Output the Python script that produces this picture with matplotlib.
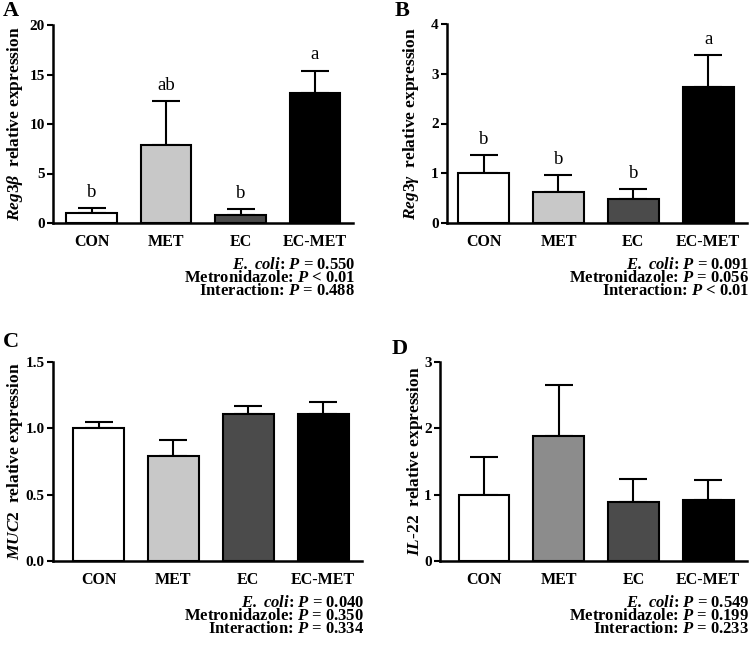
import matplotlib
matplotlib.use("Agg")
import matplotlib.pyplot as plt

plt.rcParams['font.family'] = ['Liberation Serif', 'DejaVu Serif']
plt.rcParams['font.weight'] = 'bold'
plt.rcParams['mathtext.fontset'] = 'custom'
plt.rcParams['mathtext.rm'] = 'Liberation Serif:bold'
plt.rcParams['mathtext.it'] = 'Liberation Serif:italic'
plt.rcParams['mathtext.bf'] = 'Liberation Serif:bold'
plt.rcParams['mathtext.bfit'] = 'Liberation Serif:bold:italic'

groups = ["CON", "MET", "EC", "EC-MET"]

# panel A - Reg3b
reg3b_mean = [1.0, 7.9, 0.85, 13.1]
reg3b_err = [0.5, 4.4, 0.6, 2.3]
reg3b_sig = ["b", "ab", "b", "a"]
# panel B - Reg3g
reg3g_mean = [1.0, 0.62, 0.49, 2.74]
reg3g_err = [0.36, 0.34, 0.19, 0.64]
reg3g_sig = ["b", "b", "b", "a"]
# panel C - MUC2
muc2_mean = [1.0, 0.79, 1.11, 1.11]
muc2_err = [0.05, 0.12, 0.06, 0.09]
# panel D - IL-22
il22_mean = [1.0, 1.88, 0.89, 0.92]
il22_err = [0.57, 0.78, 0.35, 0.30]

pvals_A = ["= 0.550", "< 0.01", "= 0.488"]
pvals_B = ["= 0.091", "= 0.056", "< 0.01"]
pvals_C = ["= 0.040", "= 0.350", "= 0.334"]
pvals_D = ["= 0.549", "= 0.199", "= 0.233"]

colors = ["white", "#c8c8c8", "#4b4b4b", "black"]
colors_D = ["white", "#8c8c8c", "#4b4b4b", "black"]

fig = plt.figure(figsize=(7.5, 6.48), dpi=100)
W, H = 750.0, 648.0


def make_axes(left, right, top, bottom):
    return fig.add_axes([left / W, 1 - bottom / H, (right - left) / W, (bottom - top) / H])


def p_text(ax, pv):
    names = [r"$\mathbfit{E.}$ $\mathbfit{coli}$", "Metronidazole", "Interaction"]
    for k, (name, v) in enumerate(zip(names, pv)):
        s = name + r": $\mathbfit{P}$ " + v
        ax.annotate(s, xy=(1.0, 0), xycoords="axes fraction",
                    xytext=(1.5, -30 - 9.6 * k), textcoords="offset points",
                    ha="right", va="center", fontsize=12, fontweight="bold")


def draw(ax, mean, err, cols, ylim, yticks, ytl, ylabel, labx, xlim, pv, sig=None):
    x = list(range(len(groups)))
    ax.bar(x, mean, width=0.68, color=cols, edgecolor="black", linewidth=1.5, zorder=2)
    ax.errorbar(x, mean, yerr=[[0] * len(err), err], fmt="none", ecolor="black",
                elinewidth=1.5, capsize=10, capthick=1.5, zorder=1)
    if sig is not None:
        for xi, m, e, s in zip(x, mean, err, sig):
            ax.annotate(s, xy=(xi, m + e), xytext=(0, 8), textcoords="offset points",
                        ha="center", va="baseline", fontsize=13.5, fontweight="normal")
    ax.set_xlim(xlim)
    ax.set_ylim(ylim)
    ax.set_yticks(yticks)
    ax.set_yticklabels(ytl, fontsize=11, fontweight="bold")
    ax.set_xticks(x)
    ax.set_xticklabels(groups, fontsize=11.5, fontweight="bold")
    ax.tick_params(axis="x", length=0, pad=8)
    ax.tick_params(axis="y", length=4, width=1.5, pad=2)
    for sp in ["top", "right"]:
        ax.spines[sp].set_visible(False)
    for sp in ["left", "bottom"]:
        ax.spines[sp].set_linewidth(1.8)
    ax.set_ylabel(ylabel, fontsize=12.5, fontweight="bold")
    ax.yaxis.set_label_coords(labx, 0.5)
    p_text(ax, pv)


axA = make_axes(53, 353, 25, 223)
draw(axA, reg3b_mean, reg3b_err, colors, (0, 20), [0, 5, 10, 15, 20],
     ["0", "5", "10", "15", "20"], r"$\mathit{Reg3\beta}$  relative expression", -0.094,
     (-0.52, 3.51), pvals_A, reg3b_sig)

axB = make_axes(447, 747, 24, 223)
draw(axB, reg3g_mean, reg3g_err, colors, (0, 4), [0, 1, 2, 3, 4],
     ["0", "1", "2", "3", "4"], r"$\mathit{Reg3\gamma}$  relative expression", -0.088,
     (-0.49, 3.52), pvals_B, reg3g_sig)

axC = make_axes(53, 362, 362, 561)
draw(axC, muc2_mean, muc2_err, colors, (0, 1.5), [0, 0.5, 1.0, 1.5],
     ["0.0", "0.5", "1.0", "1.5"], r"$\mathit{MUC2}$  relative expression", -0.092,
     (-0.61, 3.52), pvals_C)

axD = make_axes(440, 747, 362, 561)
draw(axD, il22_mean, il22_err, colors_D, (0, 3), [0, 1, 2, 3],
     ["0", "1", "2", "3"], r"$\mathit{IL}$-$\mathit{22}$  relative expression", -0.05,
     (-0.59, 3.52), pvals_D)

# panel letters
for lab, px, py in [("A", 3, 11), ("B", 395, 11), ("C", 3, 342), ("D", 392, 349)]:
    fig.text(px / W, 1 - py / H, lab, ha="left", va="center", fontsize=16, fontweight="bold")

fig.savefig("out.png", dpi=100)
